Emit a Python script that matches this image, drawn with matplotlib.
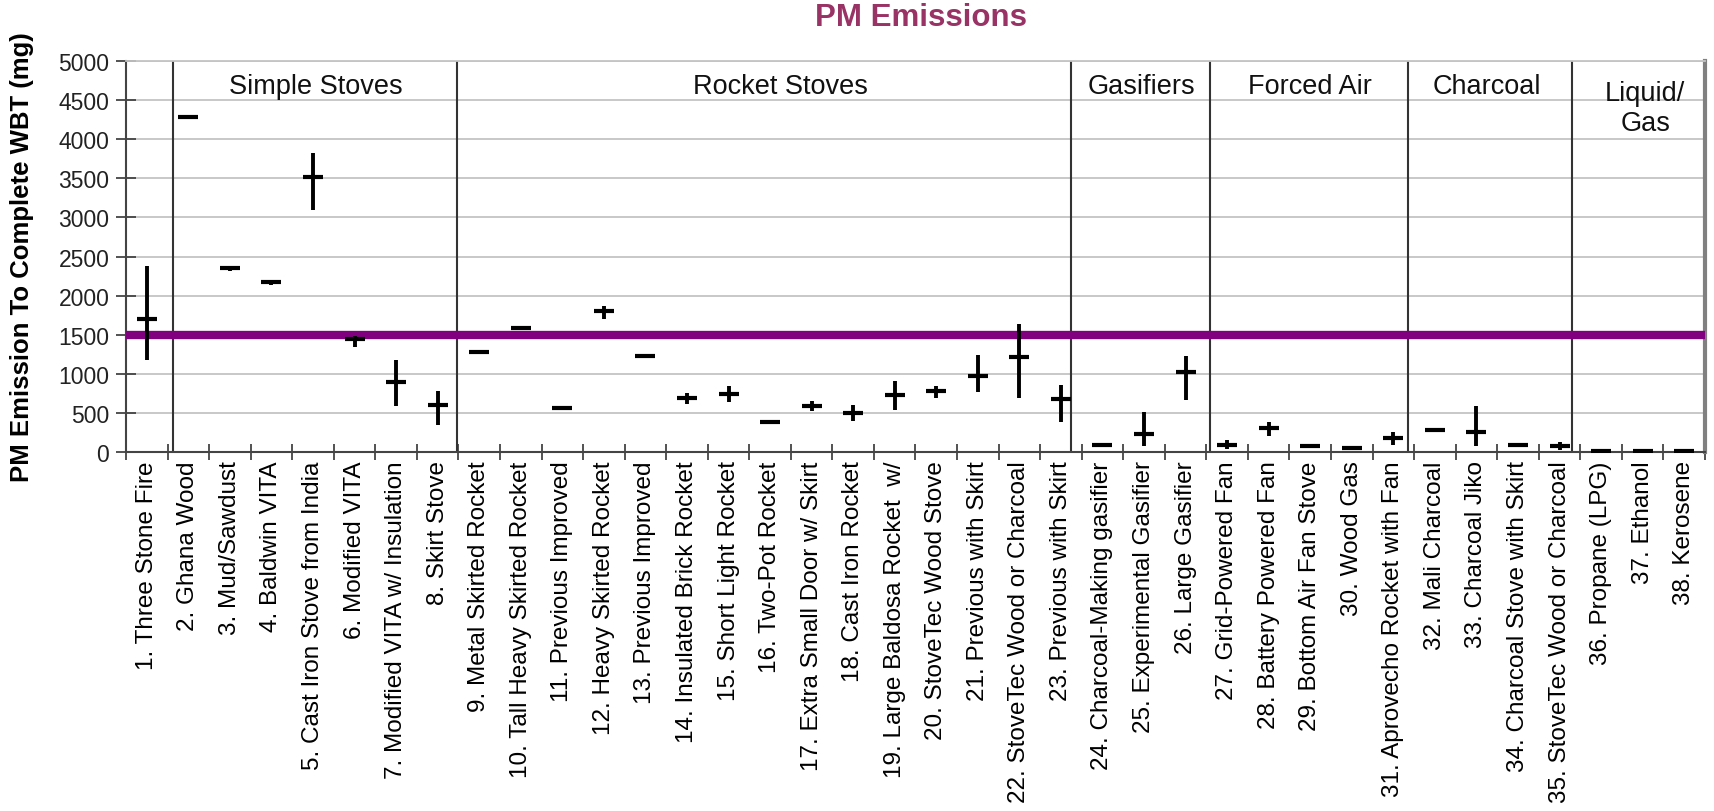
import matplotlib
matplotlib.use("Agg")
import matplotlib.pyplot as plt
import numpy as np

# stove names along the x axis
stove_labels = [
    "1. Three Stone Fire", "2. Ghana Wood", "3. Mud/Sawdust", "4. Baldwin VITA",
    "5. Cast Iron Stove from India", "6. Modified VITA",
    "7. Modified VITA w/ Insulation", "8. Skirt Stove",
    "9. Metal Skirted Rocket", "10. Tall Heavy Skirted Rocket",
    "11. Previous Improved", "12. Heavy Skirted Rocket", "13. Previous Improved",
    "14. Insulated Brick Rocket", "15. Short Light Rocket", "16. Two-Pot Rocket",
    "17. Extra Small Door w/ Skirt", "18. Cast Iron Rocket",
    "19. Large Baldosa Rocket  w/", "20. StoveTec Wood Stove",
    "21. Previous with Skirt", "22. StoveTec Wood or Charcoal",
    "23. Previous with Skirt", "24. Charcoal-Making gasifier",
    "25. Experimental Gasifier", "26. Large Gasifier", "27. Grid-Powered Fan",
    "28. Battery Powered Fan", "29. Bottom Air Fan Stove", "30. Wood Gas",
    "31. Aprovecho Rocket with Fan", "32. Mali Charcoal", "33. Charcoal Jiko",
    "34. Charcoal Stove with Skirt", "35. StoveTec Wood or Charcoal",
    "36. Propane (LPG)", "37. Ethanol", "38. Kerosene",
]

# PM emitted to complete the WBT (mg): mean, lower and upper end of the bar
pm_mean = [1700, 4290, 2350, 2170, 3520, 1440, 890, 600,
           1280, 1580, 565, 1800, 1230, 690, 745, 380, 592, 505, 730, 775,
           970, 1210, 680,
           90, 230, 1025,
           95, 305, 75, 45, 180,
           280, 260, 85, 75,
           15, 15, 15]
pm_low = [1180, 4270, 2320, 2140, 3090, 1340, 585, 340,
          1250, 1560, 540, 1700, 1200, 610, 640, 360, 530, 400, 540, 690,
          770, 690, 380,
          80, 75, 670,
          40, 200, 60, 30, 95,
          270, 75, 65, 20,
          5, 5, 5]
pm_high = [2380, 4300, 2360, 2180, 3830, 1490, 1180, 775,
           1290, 1590, 575, 1870, 1240, 760, 850, 390, 655, 605, 910, 845,
           1240, 1640, 855,
           100, 515, 1230,
           150, 380, 85, 55, 250,
           290, 590, 105, 130,
           25, 25, 25]

group_names = ["Simple Stoves", "Rocket Stoves", "Gasifiers", "Forced Air",
               "Charcoal", "Liquid/\nGas"]
group_label_x = [5.08, 16.25, 24.93, 28.99, 33.26, 37.06]
group_dividers = [1.63, 8.46, 23.25, 26.59, 31.36, 35.30]
target_pm = 1500

plt.rcParams["font.family"] = ["Liberation Sans", "DejaVu Sans"]

x = np.arange(1, len(stove_labels) + 1)
mean = np.array(pm_mean)
err = np.array([mean - np.array(pm_low), np.array(pm_high) - mean])

fig = plt.figure(figsize=(17.14, 8.12), dpi=100)
ax = fig.add_axes([0.0735, 0.4421, 0.92125, 0.4815])

ax.set_xlim(0.5, len(stove_labels) + 0.5)
ax.set_ylim(0, 5000)

# grid
ax.set_yticks(np.arange(0, 5001, 500))
ax.yaxis.grid(True, color="#c4c4c4", lw=1.3, zorder=0)
ax.set_axisbelow(True)

# group separators and names
for d in group_dividers:
    ax.axvline(d, ymin=0.005, ymax=1, color="#333333", lw=1.5, zorder=2)
for name, gx in zip(group_names, group_label_x):
    # baseline of the last line; two-line names sit one line lower
    nlines = name.count("\n")
    ax.text(gx, 4592 - nlines * 470, name, ha="center", va="baseline",
            fontsize=19.5, color="#111111", linespacing=1.2)

# target line
ax.axhline(target_pm, color="#800080", lw=6, zorder=3)

ax.errorbar(x, mean, yerr=err, fmt="_", color="black", ecolor="black",
            elinewidth=2.8, markersize=15, markeredgewidth=3.0, capsize=0,
            zorder=4)

# x ticks at the item boundaries, labels in between
ax.set_xticks(np.arange(0.5, len(stove_labels) + 1, 1))
ax.set_xticklabels([])
ax.set_xticks(x, minor=True)
ax.set_xticklabels(stove_labels, minor=True, rotation=90, fontsize=17.5,
                   ha="center", va="top")
ax.tick_params(axis="x", which="major", direction="inout", length=11.5,
               width=1.3, color="#444444")
ax.tick_params(axis="x", which="minor", length=0, pad=6)
ax.tick_params(axis="y", direction="inout", length=14, width=1.3,
               color="#444444", labelsize=16.5, pad=5, labelcolor="#222222")

for side in ("left", "bottom"):
    ax.spines[side].set_color("#444444")
    ax.spines[side].set_linewidth(1.5)
ax.spines["top"].set_color("#c4c4c4")
ax.spines["top"].set_linewidth(1.3)
ax.spines["right"].set_color("#808080")
ax.spines["right"].set_linewidth(3)

ax.set_ylabel("PM Emission To Complete WBT (mg)", fontsize=18.5,
              fontweight="bold")
ax.yaxis.set_label_coords(-0.058, 0.50)

fig.text(921 / 1714, 1 - 18 / 812, "PM Emissions", ha="center", va="center",
         fontsize=22.5, fontweight="bold", color="#993366")

fig.savefig("out.png", dpi=100)
